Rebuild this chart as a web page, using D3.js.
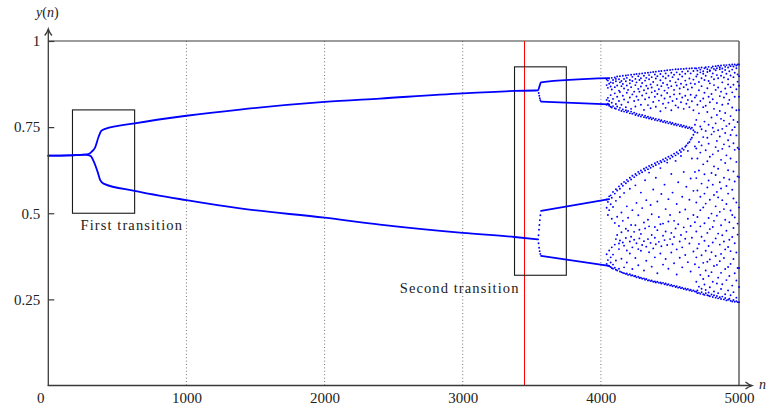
<!DOCTYPE html>
<html><head><meta charset="utf-8">
<script src="https://cdn.jsdelivr.net/npm/d3@7"></script>
<style>
html,body{margin:0;padding:0;background:#fff;}
svg{display:block;}
svg text{font-family:"Liberation Serif","DejaVu Serif",serif;}
</style></head><body>
<svg id="chart" width="768" height="405"></svg>
<script>
// y(n) against n: the stable branches, the short transients after each
// split, and the scattered points of the chaotic range near the end.
const xTicks = [0, 1000, 2000, 3000, 4000, 5000];
const yTicks = [0.25, 0.5, 0.75, 1];
const gridTicks = [1000, 2000, 3000, 4000];
const markerN = 3450;

const boxes = [
  { label: "First transition",  n0: 175,  n1: 625,  y0: 0.5,  y1: 0.8,   side: "left"  },
  { label: "Second transition", n0: 3375, n1: 3750, y0: 0.32, y1: 0.925, side: "right" }
];

// branch points [n, y]
const upperBranch = [[0,.667],[150,.668],[260,.670],[290,.672],[315,.679],[340,.692],[364,.722],[383,.739],[412,.745],[625,.761],[1000,.783],[1388,.801],[2000,.823],[2400,.833],[3000,.848],[3375,.855],[3546,.857],[3556,.869],[3566,.880],[4060,.892]];
const lowerBranch = [[0,.667],[150,.668],[260,.670],[290,.669],[310,.665],[328,.651],[357,.620],[376,.596],[400,.586],[625,.565],[1000,.538],[1388,.514],[2000,.487],[2400,.467],[3000,.443],[3375,.431],[3546,.424]];
const upperInner = [[3567,.824],[4060,.816]];
const lowerInner = [[3567,.507],[4060,.541]];
const lowerOuter = [[3567,.376],[4060,.347]];

// transient points right after the second split
const transients = [[3550,.849],[3554,.841],[3558,.834],[3562,.828],
  [3549,.436],[3552,.452],[3555,.466],[3558,.480],[3562,.494],
  [3549,.413],[3553,.400],[3557,.390],[3562,.382]];

// chaotic range: [n, y values...]
const chaosColumns = [
[4042,.888,.872,.829,.815,.540,.516,.381,.353],
[4051,.885,.864,.835,.818,.533,.495,.364,.348],
[4060,.891,.876,.812,.826,.549,.509,.392,.346],
[4071,.880,.868,.843,.809,.552,.526,.372,.344,.357],
[4079,.893,.859,.821,.807,.545,.484,.401,.341],
[4088,.887,.878,.832,.811,.562,.518,.380,.339,.351],
[4101,.894,.866,.848,.805,.557,.472,.409,.342],
[4109,.883,.890,.817,.803,.570,.536,.363,.336,.425],
[4118,.897,.871,.838,.810,.566,.490,.437,.334],
[4131,.889,.856,.826,.800,.578,.463,.396,.339,.412],
[4138,.898,.880,.852,.806,.571,.547,.421,.331],
[4149,.884,.869,.815,.797,.585,.502,.445,.368,.329],
[4159,.899,.875,.841,.801,.580,.478,.415,.327],
[4168,.890,.862,.830,.795,.591,.559,.406,.343,.326],
[4181,.900,.883,.808,.799,.587,.455,.428,.324],
[4188,.893,.871,.850,.793,.597,.520,.392,.357,.325],
[4197,.901,.858,.822,.797,.593,.487,.449,.321],
[4210,.887,.877,.836,.790,.603,.571,.418,.383,.323],
[4219,.902,.866,.803,.795,.598,.466,.432,.319],
[4228,.896,.884,.845,.789,.609,.509,.401,.338,.320],
[4241,.903,.853,.826,.792,.605,.446,.423,.317],
[4250,.890,.872,.810,.785,.614,.581,.465,.370,.318],
[4258,.904,.880,.839,.789,.610,.530,.413,.314],
[4271,.898,.861,.829,.783,.620,.494,.396,.349,.316],
[4279,.905,.887,.853,.787,.615,.452,.427,.312],
[4290,.892,.868,.815,.781,.624,.560,.440,.391,.313],
[4299,.906,.878,.842,.785,.619,.515,.408,.310],
[4312,.899,.857,.800,.779,.629,.473,.419,.334,.311],
[4320,.907,.885,.831,.783,.624,.596,.456,.307],
[4329,.893,.870,.848,.777,.633,.538,.403,.362,.309],
[4341,.908,.862,.814,.780,.628,.481,.425,.305],
[4349,.901,.889,.836,.775,.637,.618,.462,.387,.306],
[4360,.909,.874,.805,.778,.632,.524,.414,.303],
[4368,.895,.865,.851,.773,.641,.497,.437,.345,.305],
[4379,.910,.881,.823,.776,.636,.569,.398,.301],
[4391,.903,.855,.838,.771,.645,.460,.429,.372,.302],
[4398,.911,.891,.809,.774,.640,.603,.410,.299],
[4409,.898,.872,.846,.769,.649,.534,.451,.326,.301],
[4420,.912,.860,.827,.772,.644,.489,.417,.298],
[4431,.904,.886,.796,.767,.652,.631,.468,.383,.299],
[4438,.913,.869,.842,.770,.648,.556,.404,.296],
[4450,.897,.878,.818,.765,.656,.470,.435,.351,.298],
[4461,.914,.856,.833,.768,.651,.583,.422,.294],
[4469,.906,.892,.806,.763,.660,.512,.447,.367,.296],
[4480,.915,.873,.849,.766,.655,.647,.408,.292],
[4489,.899,.864,.821,.761,.664,.541,.476,.339,.294],
[4501,.916,.884,.838,.764,.659,.495,.425,.290],
[4510,.908,.869,.799,.759,.668,.614,.443,.386,.292],
[4519,.917,.895,.826,.762,.664,.560,.410,.288],
[4530,.902,.858,.845,.757,.673,.478,.431,.355,.290],
[4541,.918,.880,.813,.760,.668,.652,.456,.286],
[4549,.909,.871,.832,.755,.677,.527,.395,.322,.288],
[4560,.918,.889,.807,.758,.673,.590,.468,.284],
[4571,.903,.862,.847,.753,.683,.503,.418,.371,.286],
[4580,.919,.876,.822,.756,.678,.666,.437,.282],
[4589,.911,.897,.836,.751,.688,.548,.401,.343,.284],
[4600,.919,.866,.803,.754,.684,.620,.459,.280],
[4611,.905,.885,.841,.749,.693,.511,.426,.379,.282],
[4619,.920,.873,.818,.752,.697,.577,.446,.278],
[4630,.912,.859,.829,.747,.703,.681,.484,.358,.280],
[4641,.920,.891,.808,.750,.707,.539,.412,.276],
[4650,.906,.877,.844,.745,.714,.601,.463,.331,.278],
[4659,.921,.865,.825,.748,.719,.659,.429,.274],
[4670,.913,.888,.799,.741,.728,.565,.495,.389,.276],
[4681,.921,.875,.836,.757,.736,.694,.620,.474,.352,.273],
[4691,.920,.897,.842,.771,.688,.602,.531,.447,.372,.301,.272],
[4699,.914,.903,.815,.734,.659,.566,.489,.398,.276,.268],
[4710,.922,.881,.857,.790,.707,.624,.411,.343,.287,.269],
[4720,.917,.909,.826,.752,.676,.548,.509,.462,.321,.266],
[4729,.923,.892,.869,.744,.697,.586,.432,.378,.281,.271],
[4741,.912,.905,.833,.808,.721,.642,.517,.356,.309,.265],
[4750,.921,.887,.850,.766,.613,.557,.471,.420,.293,.263],
[4759,.924,.899,.812,.739,.683,.528,.391,.334,.277,.268],
[4771,.918,.910,.863,.794,.719,.651,.575,.443,.359,.262],
[4780,.925,.884,.838,.757,.702,.595,.486,.405,.318,.270,.261],
[4789,.915,.913,.877,.822,.664,.539,.454,.366,.285,.259],
[4801,.922,.896,.846,.778,.729,.617,.499,.387,.329,.264],
[4810,.926,.906,.831,.748,.671,.583,.460,.415,.301,.257],
[4819,.919,.889,.872,.803,.737,.636,.553,.478,.347,.273,.262],
[4831,.927,.915,.858,.761,.692,.611,.520,.427,.376,.255],
[4840,.921,.901,.820,.785,.710,.562,.493,.350,.296,.260],
[4849,.928,.892,.865,.741,.681,.629,.546,.441,.313,.268,.253],
[4861,.924,.918,.840,.797,.723,.590,.504,.409,.361,.256],
[4870,.929,.899,.853,.774,.655,.572,.465,.382,.327,.280,.251],
[4879,.920,.910,.880,.815,.745,.687,.538,.436,.294,.258],
[4891,.930,.894,.836,.769,.700,.603,.512,.418,.370,.250],
[4900,.925,.916,.862,.791,.733,.646,.481,.395,.338,.265,.254],
[4909,.930,.905,.847,.753,.668,.579,.527,.449,.306,.247],
[4921,.923,.889,.874,.818,.712,.625,.557,.402,.344,.276,.249],
[4930,.931,.912,.829,.760,.694,.598,.474,.423,.318,.252],
[4939,.927,.900,.866,.782,.727,.659,.508,.390,.353,.262,.246],
[4951,.932,.917,.851,.807,.742,.568,.495,.431,.290,.244],
[4960,.926,.895,.873,.771,.703,.621,.543,.457,.367,.271,.248],
[4969,.932,.908,.838,.750,.684,.592,.488,.413,.326,.243],
[4981,.929,.921,.860,.799,.726,.649,.531,.386,.305,.255,.245],
[4990,.932,.903,.882,.765,.690,.607,.470,.438,.341,.242],
[5000,.932,.898,.870,.838,.800,.686,.605,.517,.341,.286,.242]
];

const svg = d3.select("#chart");
const x = d3.scaleLinear().domain([0, 5000]).range([48.3, 739]);
const y = d3.scaleLinear().domain([0, 1]).range([385.5, 41]);
const blue = "#0000ff";
const axisColor = "#3a3a3a";
const serif = "'Liberation Serif','DejaVu Serif',serif";

// dotted vertical grid
svg.append("g").selectAll("line").data(gridTicks).join("line")
  .attr("x1", d => x(d)).attr("x2", d => x(d))
  .attr("y1", y(1)).attr("y2", y(0))
  .attr("stroke", "#666").attr("stroke-width", 0.9)
  .attr("stroke-dasharray", "1,2.4");

// frame: top and right edges
svg.append("line").attr("x1", x(0)).attr("x2", x(5000)).attr("y1", y(1)).attr("y2", y(1))
  .attr("stroke", axisColor).attr("stroke-width", 1.2);
svg.append("line").attr("x1", x(5000)).attr("x2", x(5000)).attr("y1", y(1)).attr("y2", y(0))
  .attr("stroke", "#6a6a6a").attr("stroke-width", 1.6);

// vertical marker, snapped to one pixel column
const markerX = Math.floor(x(markerN)) + 0.5;
svg.append("line").attr("x1", markerX).attr("x2", markerX)
  .attr("y1", y(1)).attr("y2", y(0))
  .attr("stroke", "#ff0000").attr("stroke-width", 1)
  .attr("shape-rendering", "crispEdges");

// boxes and their labels
const boxG = svg.append("g");
boxes.forEach(b => {
  boxG.append("rect")
    .attr("x", x(b.n0)).attr("y", y(b.y1))
    .attr("width", x(b.n1) - x(b.n0)).attr("height", y(b.y0) - y(b.y1))
    .attr("fill", "none").attr("stroke", "#1a1a1a").attr("stroke-width", 1.1);
  const t = boxG.append("text")
    .attr("font-family", serif)
    .attr("font-size", 14.5).attr("fill", "#222")
    .attr("letter-spacing", 1.1)
    .text(b.label);
  if (b.side === "left") {
    t.attr("x", x(b.n0) + 8).attr("y", y(b.y0) + 17);
  } else {
    t.attr("x", x(b.n0) + 5).attr("y", y(b.y0) + 18).attr("text-anchor", "end");
  }
});

// branches
const line = d3.line().x(d => x(d[0])).y(d => y(d[1])).curve(d3.curveMonotoneX);
const straight = d3.line().x(d => x(d[0])).y(d => y(d[1]));
const lineG = svg.append("g").attr("fill", "none").attr("stroke", blue)
  .attr("stroke-width", 1.8).attr("stroke-linejoin", "round").attr("stroke-linecap", "round");
lineG.append("path").attr("d", line(upperBranch));
lineG.append("path").attr("d", line(lowerBranch));
[upperInner, lowerInner, lowerOuter].forEach(s => lineG.append("path").attr("d", straight(s)));

// transient and chaotic points
const chaosPoints = chaosColumns.flatMap(c => c.slice(1).map(v => [c[0], v]));
svg.append("g").attr("fill", blue)
  .selectAll("circle").data(transients.concat(chaosPoints)).join("circle")
  .attr("cx", d => x(d[0])).attr("cy", d => y(d[1])).attr("r", 0.95);

// y axis
const yAxis = d3.axisLeft(y).tickValues(yTicks).tickSize(-6).tickPadding(8)
  .tickFormat(d => String(d));
const yg = svg.append("g").attr("transform", `translate(${x(0)},0)`).call(yAxis)
  .attr("font-family", serif);
yg.select(".domain").remove();
yg.selectAll("line").attr("stroke", axisColor).attr("stroke-width", 1.2);
yg.selectAll("text").attr("font-size", 15).attr("fill", "#222");

// x axis
const xAxis = d3.axisBottom(x).tickValues(xTicks).tickSize(0).tickPadding(7)
  .tickFormat(d3.format("d"));
const xg = svg.append("g").attr("transform", `translate(0,${y(0)})`).call(xAxis)
  .attr("font-family", serif);
xg.select(".domain").remove();
xg.selectAll("text").attr("font-size", 15).attr("fill", "#222");
xg.selectAll(".tick").filter(d => d === 0).select("text").attr("x", -8);

// axis lines with arrow tips
const ax = svg.append("g").attr("fill", "none").attr("stroke", axisColor).attr("stroke-width", 1.3);
ax.append("line").attr("x1", x(0)).attr("x2", x(0)).attr("y1", y(0) + 0.6).attr("y2", 29.5);
ax.append("line").attr("x1", x(0) - 0.6).attr("x2", 751.5).attr("y1", y(0)).attr("y2", y(0));
ax.append("path").attr("d", `M${x(0) - 3.6},35.5 Q${x(0) - 1},32.5 ${x(0)},29 Q${x(0) + 1},32.5 ${x(0) + 3.6},35.5`);
ax.append("path").attr("d", `M745.5,${y(0) - 3.6} Q748.5,${y(0) - 1} 752,${y(0)} Q748.5,${y(0) + 1} 745.5,${y(0) + 3.6}`);

// axis titles
const yl = svg.append("text").attr("x", x(0) - 1).attr("y", 17).attr("text-anchor", "middle")
  .attr("font-family", serif).attr("font-size", 14).attr("fill", "#222");
yl.append("tspan").attr("font-style", "italic").text("y");
yl.append("tspan").text("(");
yl.append("tspan").attr("font-style", "italic").text("n");
yl.append("tspan").text(")");
svg.append("text").attr("x", 759).attr("y", y(0) + 3)
  .attr("font-family", serif).attr("font-size", 14)
  .attr("font-style", "italic").attr("fill", "#222").text("n");
</script>
</body></html>
